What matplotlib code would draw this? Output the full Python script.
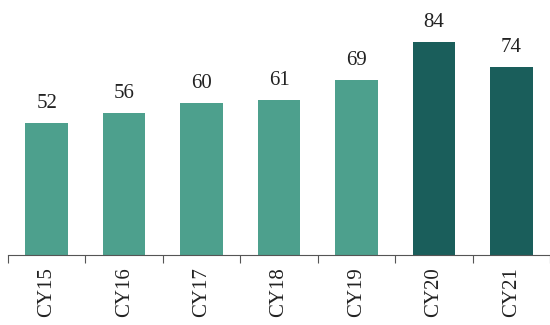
import matplotlib.pyplot as plt

years = ["CY15", "CY16", "CY17", "CY18", "CY19", "CY20", "CY21"]
values = [52, 56, 60, 61, 69, 84, 74]
colors = ["#4DA08D"] * 5 + ["#1A5E5B"] * 2

plt.rcParams['font.family'] = ['Liberation Serif', 'DejaVu Serif']

fig = plt.figure(figsize=(5.5, 3.25), dpi=100)
ax = fig.add_axes([8 / 550, 70 / 325, 542 / 550, 254 / 325])

x = range(len(years))
bars = ax.bar(x, values, width=0.55, color=colors)

# value labels above bars
for b, v in zip(bars, values):
    ax.annotate(str(v), (b.get_x() + b.get_width() / 2, v), xytext=(0, 7),
                textcoords="offset points", ha="center", va="bottom",
                fontsize=15, color="#222222")

ax.set_xlim(-0.5, len(years) - 0.5)
ax.set_ylim(0, 100)

# category separators on the x axis
ax.set_xticks([i - 0.5 for i in range(len(years) + 1)])
ax.set_xticklabels([])
ax.set_xticks(list(x), minor=True)
ax.set_xticklabels(years, minor=True, rotation=90, fontsize=15, color="#222222")
ax.tick_params(axis="x", which="major", length=6, color="#555555")
ax.tick_params(axis="x", which="minor", length=0, pad=9)

ax.set_yticks([])
for s in ["top", "right", "left"]:
    ax.spines[s].set_visible(False)
ax.spines["bottom"].set_color("#555555")

fig.savefig("out.png", dpi=100)
